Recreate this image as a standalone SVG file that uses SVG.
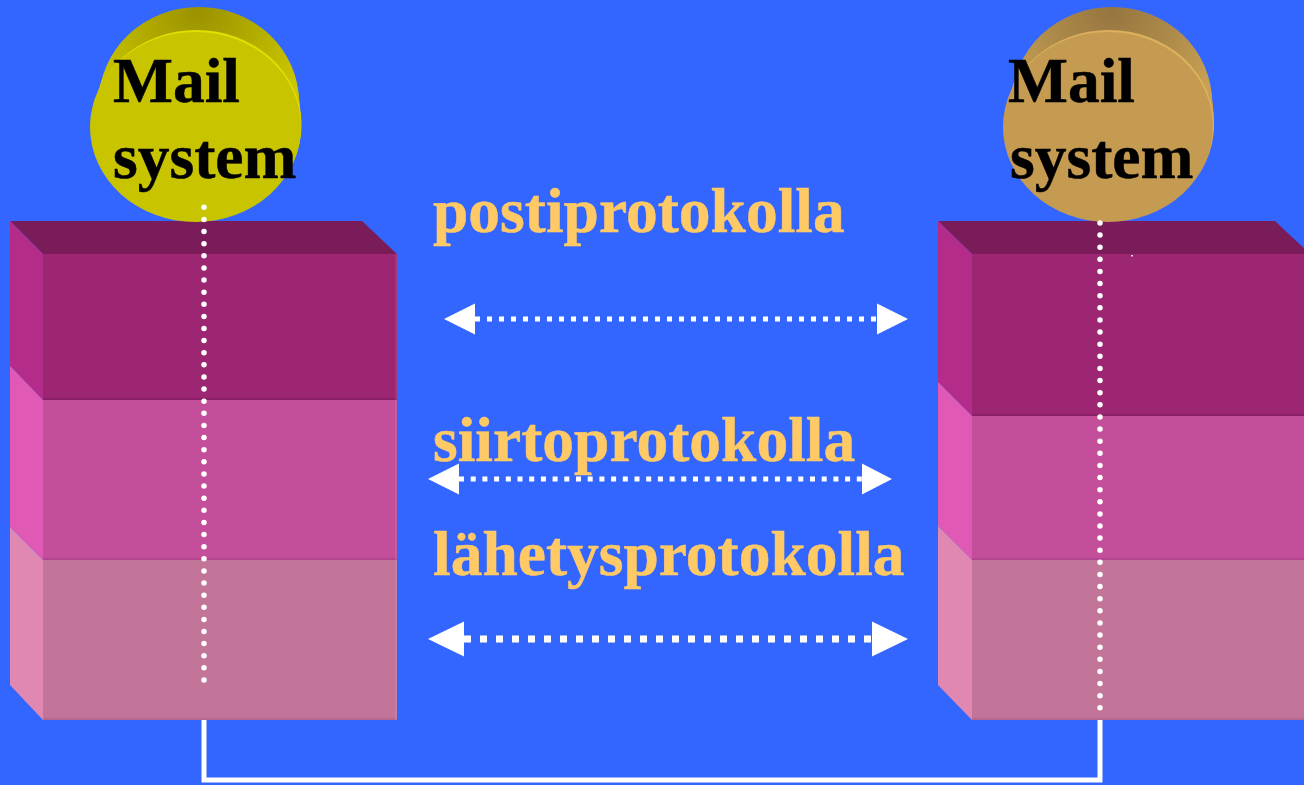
<svg xmlns="http://www.w3.org/2000/svg" width="1304" height="785" viewBox="0 0 1304 785">
<defs>
<style>
.mail{font-family:"Liberation Serif","Times New Roman",serif;font-weight:bold;font-size:63.5px;fill:#000;stroke:#000;stroke-width:0.5}
.proto{font-family:"Liberation Serif","Times New Roman",serif;font-weight:bold;font-size:63.5px;fill:#ffc966;stroke:#ffc966;stroke-width:0.5}
.top{fill:#7a1c5a}
.s1{fill:#b32c8a}.f1{fill:#9c2672}
.s2{fill:#e05ab5}.f2{fill:#c34f9a}
.s3{fill:#e088b2}.f3{fill:#c27598}
.dash{stroke:#fff;fill:none}
.vdots{stroke:#fff;stroke-width:5.5;stroke-linecap:round;stroke-dasharray:0 12.12;fill:none}
.head{fill:#fff}
.sideY{fill:url(#gY)}
.sideB{fill:url(#gB)}
</style>
<radialGradient id="gY" gradientUnits="userSpaceOnUse" cx="198" cy="10" r="120">
<stop offset="0" stop-color="#9a9200"/>
<stop offset="0.55" stop-color="#b4ae00"/>
<stop offset="1" stop-color="#cbc700"/>
</radialGradient>
<radialGradient id="gB" gradientUnits="userSpaceOnUse" cx="1111" cy="10" r="120">
<stop offset="0" stop-color="#967540"/>
<stop offset="0.55" stop-color="#ae8b4a"/>
<stop offset="1" stop-color="#c8a054"/>
</radialGradient>
</defs>
<rect width="1304" height="785" fill="#3366ff"/>

<g id="stack-left">
<polygon class="top" points="10,221 362,221 397,254 43,254"/>
<polygon class="s1" points="10,221 43,254 43,400 10,366"/>
<rect class="f1" x="43" y="254" width="354" height="146"/>
<polygon class="s2" points="10,366 43,400 43,560 10,527"/>
<rect class="f2" x="43" y="400" width="354" height="160"/>
<polygon class="s3" points="10,527 43,560 43,720 10,685"/>
<rect class="f3" x="43" y="560" width="354" height="160"/>
<rect x="43" y="398" width="354" height="2" fill="#8a2068"/>
<rect x="43" y="558" width="354" height="2" fill="#b34590"/>
<rect x="43" y="718" width="354" height="2" fill="#b36a8c"/>
<rect x="395" y="254" width="2" height="466" fill="#ffffff" opacity="0.08"/>
</g>

<g id="stack-right">
<polygon class="top" points="938,221 1275,221 1310,254 972,254"/>
<polygon class="s1" points="938,221 972,254 972,416 938,382"/>
<rect class="f1" x="972" y="254" width="340" height="162"/>
<polygon class="s2" points="938,382 972,416 972,560 938,526"/>
<rect class="f2" x="972" y="416" width="340" height="144"/>
<polygon class="s3" points="938,526 972,560 972,720 938,685"/>
<rect class="f3" x="972" y="560" width="340" height="160"/>
<rect x="972" y="414" width="340" height="2" fill="#8a2068"/>
<rect x="972" y="558" width="340" height="2" fill="#b34590"/>
<rect x="972" y="718" width="340" height="2" fill="#b36a8c"/>
<rect x="1131" y="255" width="2" height="1.5" fill="#ffffff" opacity="0.8"/>
</g>

<g id="mail-left">
<ellipse class="sideY" cx="199" cy="102" rx="100" ry="95"/>
<ellipse class="sideY" cx="198.5" cy="107" rx="101" ry="95"/>
<ellipse class="sideY" cx="198" cy="112" rx="102" ry="95"/>
<ellipse class="sideY" cx="197.5" cy="117" rx="103" ry="95"/>
<ellipse class="sideY" cx="197" cy="122" rx="104" ry="95"/>
<ellipse cx="196.5" cy="125" rx="105" ry="95" fill="#e2de00"/>
<ellipse cx="195.5" cy="127" rx="105.5" ry="95" fill="#c8c400"/>
<text class="mail" x="113" y="102">Mail</text>
<text class="mail" x="113" y="178">system</text>
</g>

<g id="mail-right">
<ellipse class="sideB" cx="1112" cy="102" rx="100" ry="95"/>
<ellipse class="sideB" cx="1111.5" cy="107" rx="101" ry="95"/>
<ellipse class="sideB" cx="1111" cy="112" rx="102" ry="95"/>
<ellipse class="sideB" cx="1110.5" cy="117" rx="103" ry="95"/>
<ellipse class="sideB" cx="1110" cy="122" rx="104" ry="95"/>
<ellipse cx="1109" cy="125" rx="105" ry="95" fill="#dcb05c"/>
<ellipse cx="1108" cy="127" rx="105" ry="95" fill="#c49b50"/>
<text class="mail" x="1008" y="102">Mail</text>
<text class="mail" x="1010" y="178">system</text>
</g>

<g id="labels">
<text class="proto" x="433" y="232">postiprotokolla</text>
<text class="proto" x="433" y="461">siirtoprotokolla</text>
<text class="proto" x="433" y="575">lähetysprotokolla</text>
</g>

<g id="connectors">
<path class="vdots" d="M204,207.3 V681"/>
<path class="vdots" d="M1100,223 V708"/>
<path d="M204,720 V780 H1100 V720" stroke="#fff" stroke-width="5" fill="none"/>

<line class="dash" x1="475" y1="319" x2="877" y2="319" stroke-width="5" stroke-dasharray="5 7"/>
<polygon class="head" points="444,319 475,303.5 475,334.5"/>
<polygon class="head" points="908,319 877,303.5 877,334.5"/>

<line class="dash" x1="459" y1="479" x2="862" y2="479" stroke-width="5" stroke-dasharray="5 6.7"/>
<polygon class="head" points="428,479 459,463.5 459,494.5"/>
<polygon class="head" points="892,479 862,463.5 862,494.5"/>

<line class="dash" x1="464" y1="639" x2="872" y2="639" stroke-width="7" stroke-dasharray="7 9"/>
<polygon class="head" points="428,639 464,621.5 464,656.5"/>
<polygon class="head" points="908,639 872,621.5 872,656.5"/>
</g>
</svg>
